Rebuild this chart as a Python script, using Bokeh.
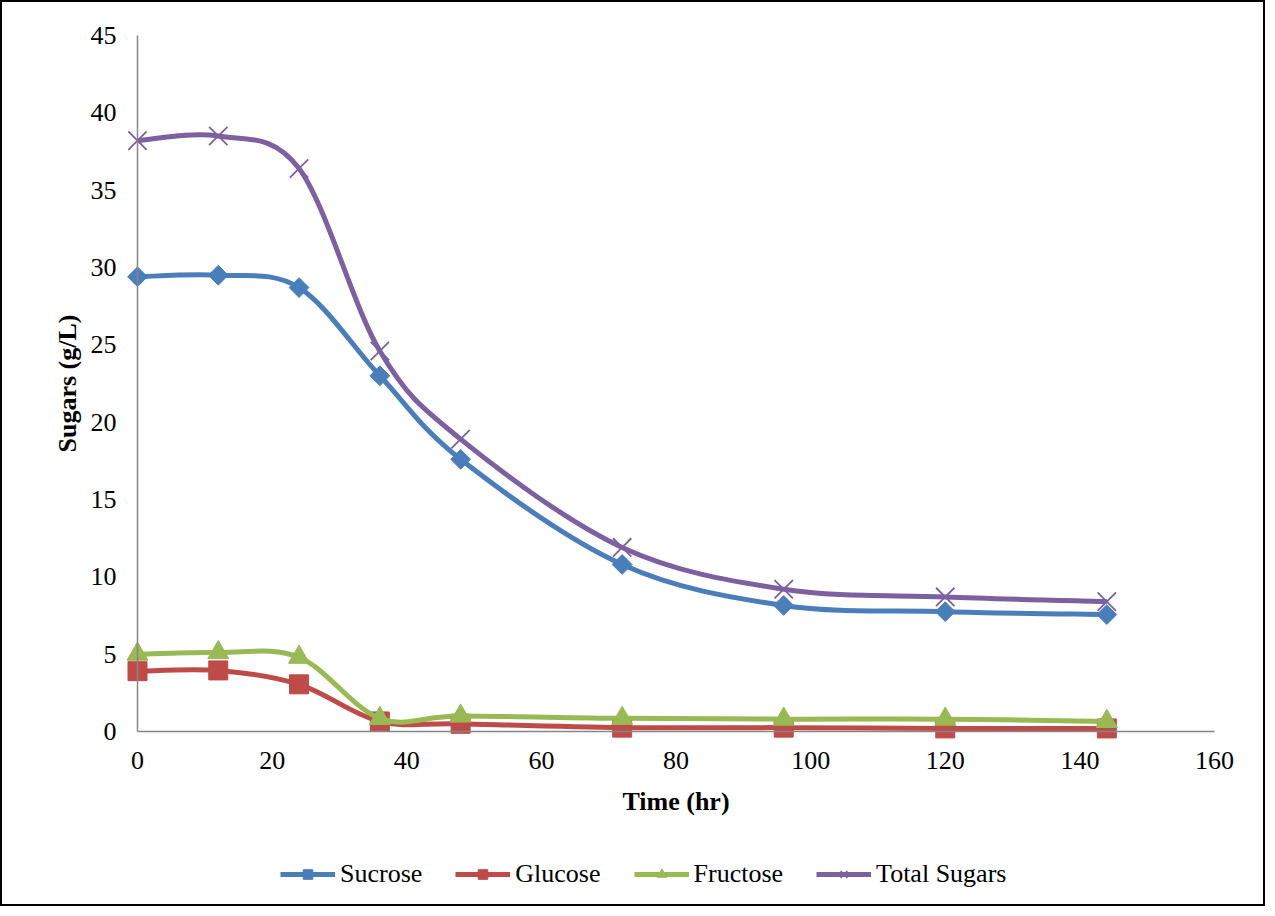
import numpy as np
from bokeh.plotting import figure
from bokeh.models import (ColumnDataSource, Legend, LegendItem, Range1d, FixedTicker,
                          LinearAxis)
from bokeh.embed import file_html
from bokeh.resources import INLINE

# ---- data ----
time_hr = [0, 12, 24, 36, 48, 72, 96, 120, 144]
sucrose = [29.4, 29.5, 28.7, 23.0, 17.6, 10.8, 8.15, 7.75, 7.56]
glucose = [3.9, 3.95, 3.05, 0.65, 0.5, 0.25, 0.25, 0.2, 0.2]
fructose = [5.0, 5.1, 4.8, 0.85, 1.0, 0.85, 0.8, 0.8, 0.65]
total_sugars = [38.2, 38.5, 36.4, 24.6, 18.9, 11.9, 9.2, 8.7, 8.4]

series_names = ["Sucrose", "Glucose", "Fructose", "Total Sugars"]
series_values = [sucrose, glucose, fructose, total_sugars]
x_ticks = [0, 20, 40, 60, 80, 100, 120, 140, 160]
y_ticks = [0, 5, 10, 15, 20, 25, 30, 35, 40, 45]

colors = ["#4A7EBB", "#BE4B48", "#98B954", "#7D60A0"]
FONT = "Liberation Serif"
FS = "26px"

# ---- layout (pixels, relative to the figure) ----
W, H = 1265, 906
TOP, BOTTOM, LEFT, RIGHT = 5, 5, 5, 5
plot_left, plot_right = 135, 1212      # x = 0 and x = 160
plot_top, plot_bottom = 33, 729        # y = 45 and y = 0
px_x = (plot_right - plot_left) / 160.0
px_y = (plot_bottom - plot_top) / 45.0
x_lo = -(plot_left - LEFT) / px_x
x_hi = 160 + (W - RIGHT - plot_right) / px_x
y_lo = -(H - BOTTOM - plot_bottom) / px_y
y_hi = 45 + (plot_top - TOP) / px_y

p = figure(width=W, height=H, output_backend="svg", toolbar_location=None,
           x_range=Range1d(x_lo, x_hi), y_range=Range1d(y_lo, y_hi),
           x_axis_location=None, y_axis_location=None,
           min_border_left=LEFT, min_border_right=RIGHT, min_border_top=TOP,
           min_border_bottom=BOTTOM)
p.styles = {"border": "2px solid black"}
p.outline_line_color = None
p.grid.grid_line_color = None
p.background_fill_color = "white"
p.border_fill_color = "white"

xaxis = LinearAxis(fixed_location=0, bounds=(0, 160))
yaxis = LinearAxis(fixed_location=0, bounds=(0, 45))
p.add_layout(xaxis, "below")
p.add_layout(yaxis, "left")

for ax, ticks in ((xaxis, x_ticks), (yaxis, y_ticks)):
    ax.ticker = FixedTicker(ticks=ticks)
    ax.axis_line_color = "#868686"
    ax.axis_line_width = 1.5
    ax.major_tick_line_color = None
    ax.minor_tick_line_color = None
    ax.major_tick_out = 0
    ax.major_tick_in = 0
    ax.minor_tick_out = 0
    ax.major_label_text_font = FONT
    ax.major_label_text_font_size = FS
    ax.major_label_text_color = "black"
    ax.axis_label_text_font = FONT
    ax.axis_label_text_font_size = FS
    ax.axis_label_text_font_style = "bold"
    ax.axis_label_text_color = "black"

xaxis.axis_label = "Time (hr)"
yaxis.axis_label = "Sugars (g/L)"
xaxis.major_label_standoff = 20
yaxis.major_label_standoff = 21
xaxis.axis_label_standoff = 15
yaxis.axis_label_standoff = 6


def smooth_segments(xs, ys, t=1.0 / 6.0):
    xs = np.asarray(xs, float)
    ys = np.asarray(ys, float)
    n = len(xs)
    d = dict(x0=[], y0=[], x1=[], y1=[], cx0=[], cy0=[], cx1=[], cy1=[])
    for i in range(n - 1):
        im1 = max(i - 1, 0)
        ip2 = min(i + 2, n - 1)
        d["x0"].append(xs[i]); d["y0"].append(ys[i])
        d["x1"].append(xs[i + 1]); d["y1"].append(ys[i + 1])
        d["cx0"].append(xs[i] + (xs[i + 1] - xs[im1]) * t)
        d["cy0"].append(ys[i] + (ys[i + 1] - ys[im1]) * t)
        d["cx1"].append(xs[i + 1] - (xs[ip2] - xs[i]) * t)
        d["cy1"].append(ys[i + 1] - (ys[ip2] - ys[i]) * t)
    return d


markers = [
    dict(marker="square", size=14, angle=np.pi / 4),
    dict(marker="square", size=19),
    dict(marker="triangle", size=21),
    dict(marker="x", size=26, line_width=1.8),
]

items = []
for name, vals, col, mk in zip(series_names, series_values, colors, markers):
    seg = ColumnDataSource(smooth_segments(time_hr, vals))
    r_line = p.bezier(x0="x0", y0="y0", x1="x1", y1="y1", cx0="cx0", cy0="cy0",
                      cx1="cx1", cy1="cy1", source=seg, line_color=col,
                      line_width=5)
    src = ColumnDataSource(dict(x=time_hr, y=vals))
    kw = dict(mk)
    lw = kw.pop("line_width", 1)
    r_pts = p.scatter(x="x", y="y", source=src, fill_color=col, line_color=col,
                      line_width=lw, **kw)
    items.append(LegendItem(label=name, renderers=[r_line, r_pts]))

legend = Legend(items=items, orientation="horizontal",
                location=(288 - 10 - LEFT, 14),
                label_text_font=FONT, label_text_font_size=FS,
                label_text_color="black", glyph_width=55, glyph_height=24,
                label_standoff=5, spacing=33, padding=0, margin=0,
                border_line_color=None, background_fill_alpha=0)
p.add_layout(legend)

open("out.html", "w").write(file_html(p, INLINE))
